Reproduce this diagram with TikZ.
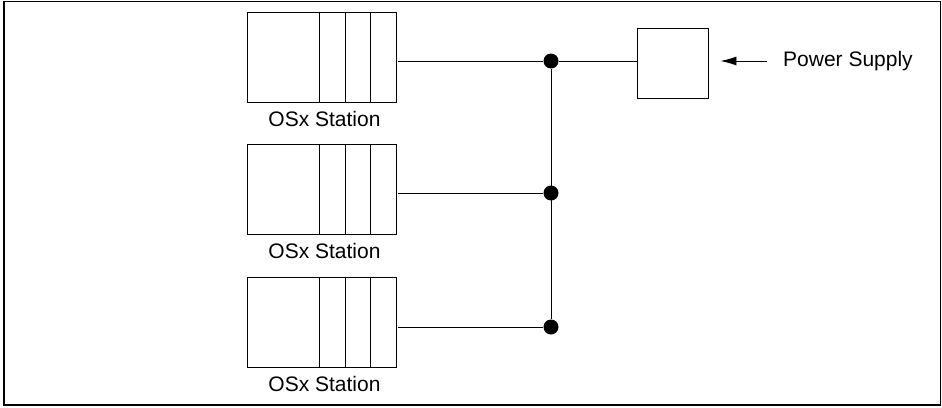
\documentclass[tikz,border=0pt]{standalone}
\usepackage{fontspec}
\setmainfont{Liberation Sans}
\usepackage{tikz}
\usetikzlibrary{arrows.meta,positioning}
\tikzset{
  station/.style={
    draw=black,
    line width=0.9pt,
    minimum width=149pt,
    minimum height=90pt,
    inner sep=0pt
  },
  supply/.style={
    draw=black,
    line width=0.9pt,
    minimum width=71pt,
    minimum height=70pt,
    inner sep=0pt
  },
  label/.style={inner sep=0pt, font=\fontsize{21}{25}\selectfont},
  junction/.style={circle, fill=black, inner sep=0pt, minimum size=15pt},
  wire/.style={line width=0.9pt}
}
\begin{document}
\begin{tikzpicture}[x=1pt, y=-1pt, node distance=9pt]
        \useasboundingbox (0,0) rectangle (942,407);
        \draw[line width=1.2pt] (4,1.5) rectangle (940.5,405);
        % stations
        \node[station] (st1) at (321.5,57) {};
        \node[station] (st2) at (321.5,189) {};
        \node[station] (st3) at (321.5,322) {};
        \foreach \s in {st1,st2,st3}{
          \foreach \dx in {-26.5,-51.5,-77.5}{
            \draw[wire] ([xshift=\dx pt]\s.north east) -- ([xshift=\dx pt]\s.south east);
          }
          \node[label, below=of \s, xshift=3pt] (\s-lab) {OSx Station};
        }
        % bus
        \node[junction] (j1) at (551,61) {};
        \node[junction] (j2) at (551,193) {};
        \node[junction] (j3) at (551,327) {};
        \node[supply] (ps) at (672.5,63) {};
        \draw[wire] ([xshift=2pt]st1.east |- j1) -- (j1);
        \draw[wire] ([xshift=2pt]st2.east |- j2) -- (j2);
        \draw[wire] ([xshift=2pt]st3.east |- j3) -- (j3);
        \draw[wire] (j1) -- (j3);
        \draw[wire] (j1) -- (ps.west |- j1);
        \node[label, anchor=west] (pwr) at (783,61) {Power Supply};
        \draw[wire, -{Latex[length=16pt, width=9pt]}] ([xshift=-16pt]pwr.west) -- ([xshift=12pt]ps.east |- pwr);
      \end{tikzpicture}
\end{document}
